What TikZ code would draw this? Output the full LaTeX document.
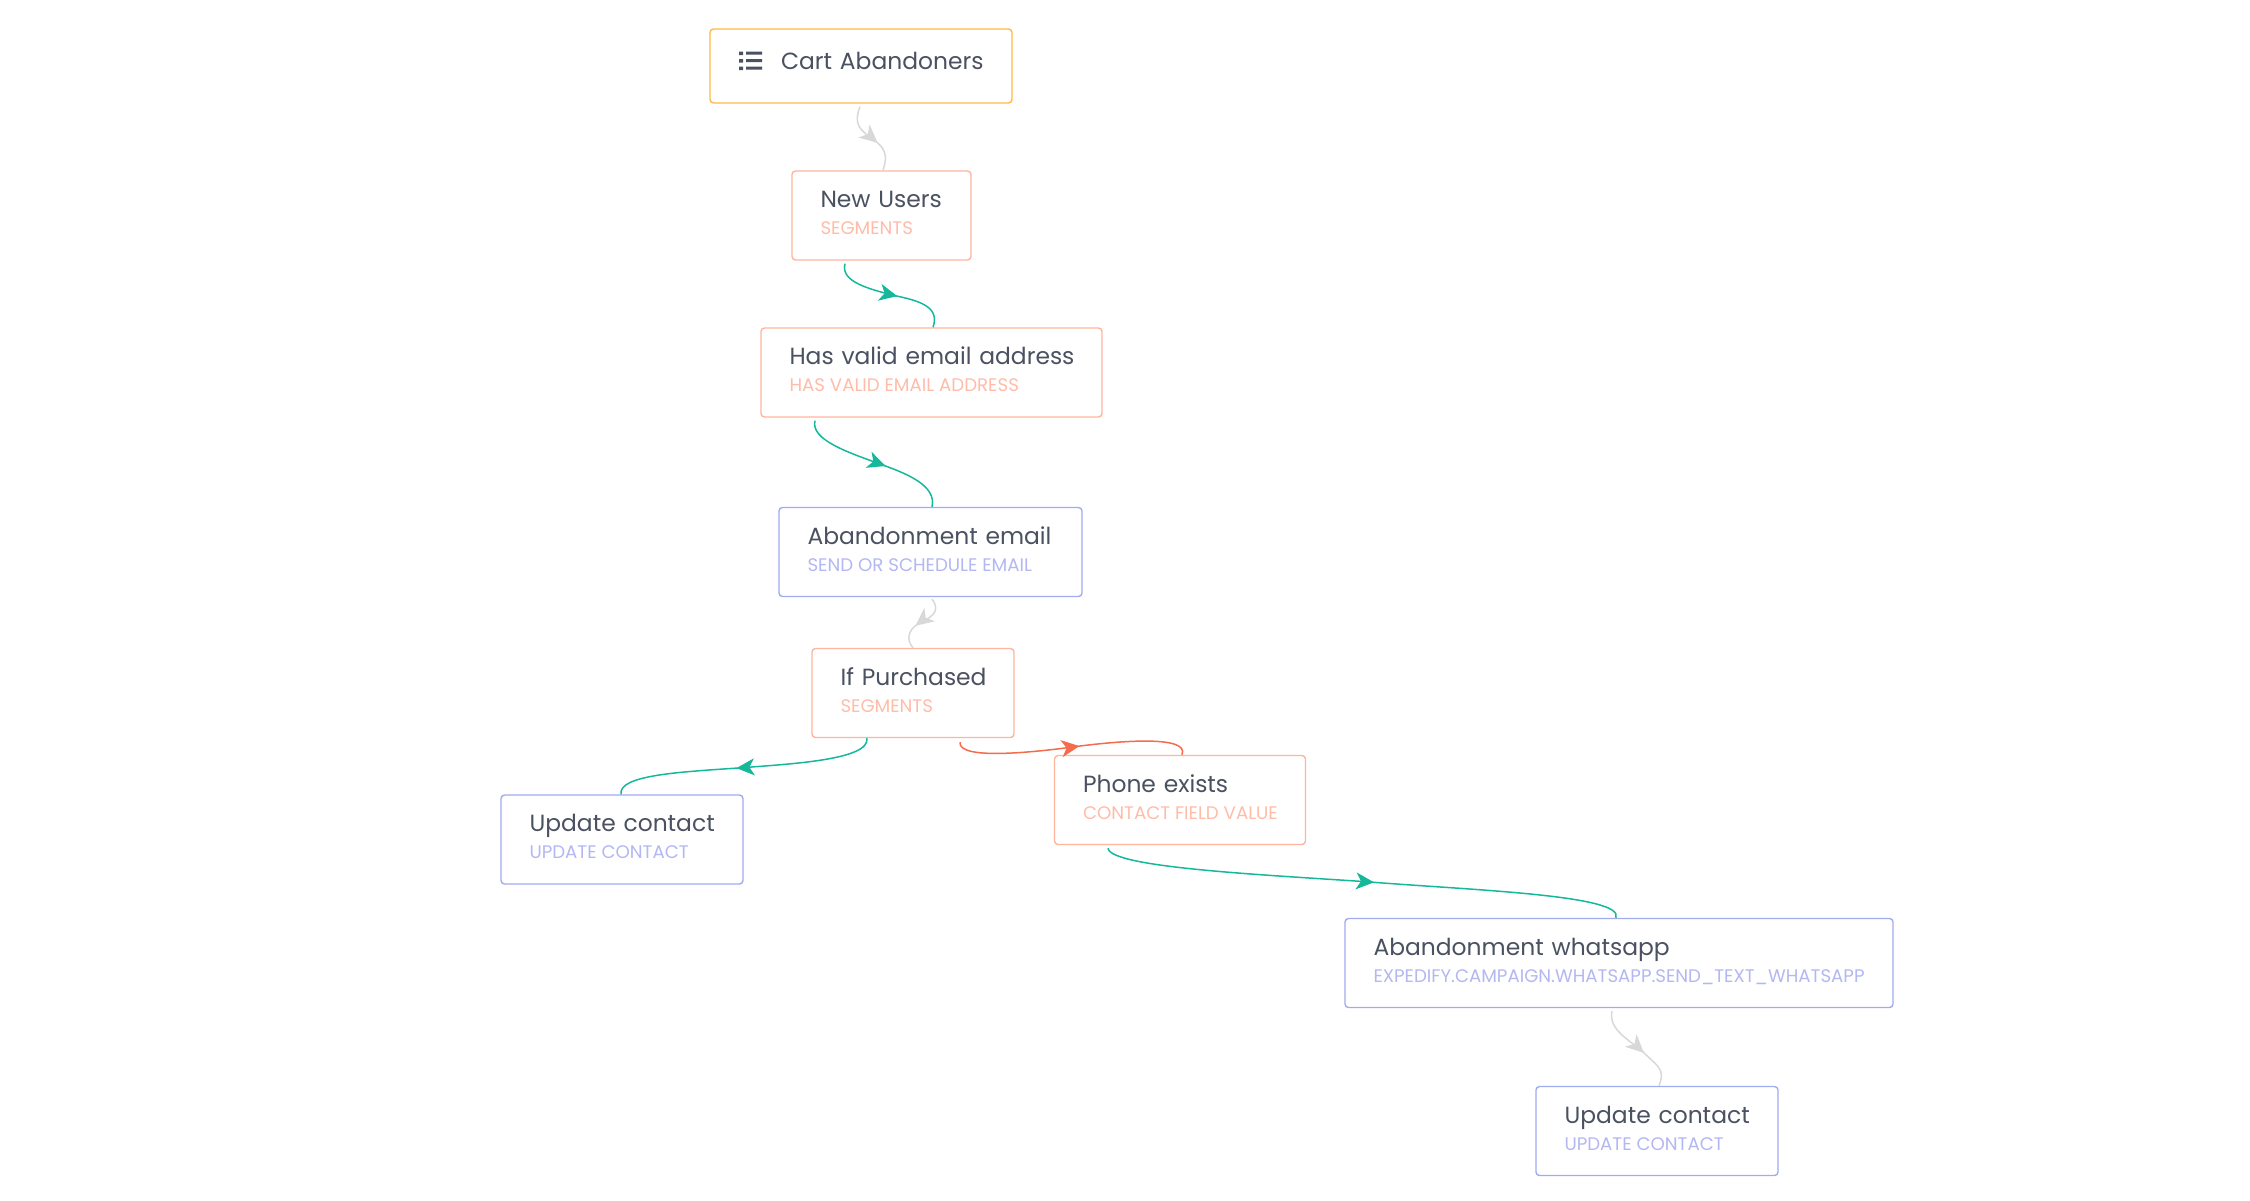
\documentclass[tikz,border=0pt]{standalone}
\usepackage{fontspec}
\setmainfont{Poppins}
\usetikzlibrary{arrows.meta,decorations.markings}
\definecolor{titleink}{HTML}{4A5160}
\definecolor{orangeline}{HTML}{FFB845}
\definecolor{salmonline}{HTML}{FFB49E}
\definecolor{blueline}{HTML}{A0ABF0}
\definecolor{salmontext}{HTML}{FFBCA9}
\definecolor{bluetext}{HTML}{B3B8F2}
\definecolor{tealline}{HTML}{16B89B}
\definecolor{greyline}{HTML}{D8D8D8}
\definecolor{redline}{HTML}{F56B4E}
\newcommand{\titlefont}{\fontsize{23.4}{27}\selectfont}
\newcommand{\subfont}{\fontsize{18.2}{27}\selectfont\spaceskip=0.27em\relax}
% name, line colour, text colour, centre x, centre y, width, title, subtitle
\newcommand{\flowcard}[8]{%
  \node[card,draw=#2,text width=#6pt,minimum width=#6pt] (#1) at (#4,#5)
    {\rule{0pt}{36.5pt}\hspace*{28.5pt}{\color{titleink}\titlefont #7}\\
     \rule[-25.5pt]{0pt}{25.5pt}\hspace*{28.5pt}{\color{#3}\subfont #8}};}
\tikzset{
  card/.style={rectangle,rounded corners=3.5pt,line width=1.4pt,fill=white,
    inner xsep=0pt,inner ysep=0pt,minimum height=88pt,align=left,font=\titlefont},
  link/.style={line width=1.5pt,draw=#1,postaction={decorate}},
  tipat/.style 2 args={decoration={markings,mark=at position #1 with
    {\arrow[#2]{Stealth[length=18pt,width=17pt,inset=5pt]}}}},
}
\begin{document}
\begin{tikzpicture}[x=1pt,y=-1pt]
\useasboundingbox (0,0) rectangle (2250,1200);
\node[card,draw=orangeline,text width=302pt,minimum width=302pt,minimum height=74pt] (cart) at (861,66)
  {\rule{0pt}{40pt}\rule[-34pt]{0pt}{34pt}\hspace*{71pt}{\color{titleink}\titlefont Cart Abandoners}};
\fill[titleink] (739,51.5) rectangle (743,55) (739,59) rectangle (743,62.5) (739,66.5) rectangle (743,70);
\fill[titleink] (746,51.5) rectangle (762,54.5) (746,59) rectangle (762,62) (746,66.5) rectangle (762,69.5);
\flowcard{newusers}{salmonline}{salmontext}{881.5}{215.5}{179}{New Users}{SEGMENTS}
\flowcard{hasvalid}{salmonline}{salmontext}{931.5}{372.5}{341}{Has valid email address}{HAS VALID EMAIL ADDRESS}
\flowcard{aemail}{blueline}{bluetext}{930.5}{552}{303}{Abandonment email}{SEND OR SCHEDULE EMAIL}
\flowcard{ifpurch}{salmonline}{salmontext}{913}{693}{202}{If Purchased}{SEGMENTS}
\flowcard{phone}{salmonline}{salmontext}{1180}{800}{251}{Phone exists}{CONTACT FIELD VALUE}
\flowcard{updl}{blueline}{bluetext}{622}{839.5}{242}{Update contact}{UPDATE CONTACT}
\flowcard{awhats}{blueline}{bluetext}{1619}{963}{548}{Abandonment whatsapp}{EXPEDIFY.CAMPAIGN.WHATSAPP.SEND\_TEXT\_WHATSAPP}
\flowcard{updr}{blueline}{bluetext}{1657}{1131}{242}{Update contact}{UPDATE CONTACT}
\draw[link=greyline,tipat={0.60}{greyline}] ([shift={(-1pt,-3pt)}]cart.south)
  .. controls (853,125) and (860,130) .. (874,140) .. controls (885,148) and (888,155) .. ([xshift=1.5pt]newusers.north);
\draw[link=tealline,tipat={0.55}{tealline}] ([shift={(-36.5pt,-3pt)}]newusers.south)
  .. controls (840,282) and (870,289) .. (892,295) .. controls (915,300) and (941,305) .. ([xshift=1.5pt]hasvalid.north);
\draw[link=tealline,tipat={0.57}{tealline}] ([shift={(-116.5pt,-3pt)}]hasvalid.south)
  .. controls (810,440) and (850,453) .. (880,464) .. controls (905,473) and (937,485) .. ([xshift=1.5pt]aemail.north);
\draw[link=greyline,tipat={0.60}{greyline}] ([shift={(1.5pt,-2pt)}]aemail.south)
  .. controls (942,612) and (930,618) .. (918,624) .. controls (908,630) and (906,640) .. (ifpurch.north);
\draw[link=tealline,tipat={0.53}{tealline}] ([xshift=-46pt]ifpurch.south)
  .. controls (870,760) and (790,764) .. (738,768) .. controls (680,772) and (618,775) .. ([xshift=-1pt]updl.north);
\draw[link=redline,tipat={0.53}{redline}] ([shift={(47pt,-4pt)}]ifpurch.south)
  .. controls (958,760) and (1030,753) .. (1080,746) .. controls (1120,741) and (1190,735) .. ([xshift=2pt]phone.north);
\draw[link=tealline,tipat={0.52}{tealline}] ([shift={(-72pt,-3pt)}]phone.south)
  .. controls (1110,868) and (1270,875) .. (1370,882) .. controls (1470,890) and (1625,895) .. ([xshift=-3pt]awhats.north);
\draw[link=greyline,tipat={0.58}{greyline}] ([shift={(-7pt,-3pt)}]awhats.south)
  .. controls (1608,1030) and (1630,1040) .. (1643,1052) .. controls (1660,1068) and (1665,1070) .. ([xshift=2pt]updr.north);
\end{tikzpicture}
\end{document}
